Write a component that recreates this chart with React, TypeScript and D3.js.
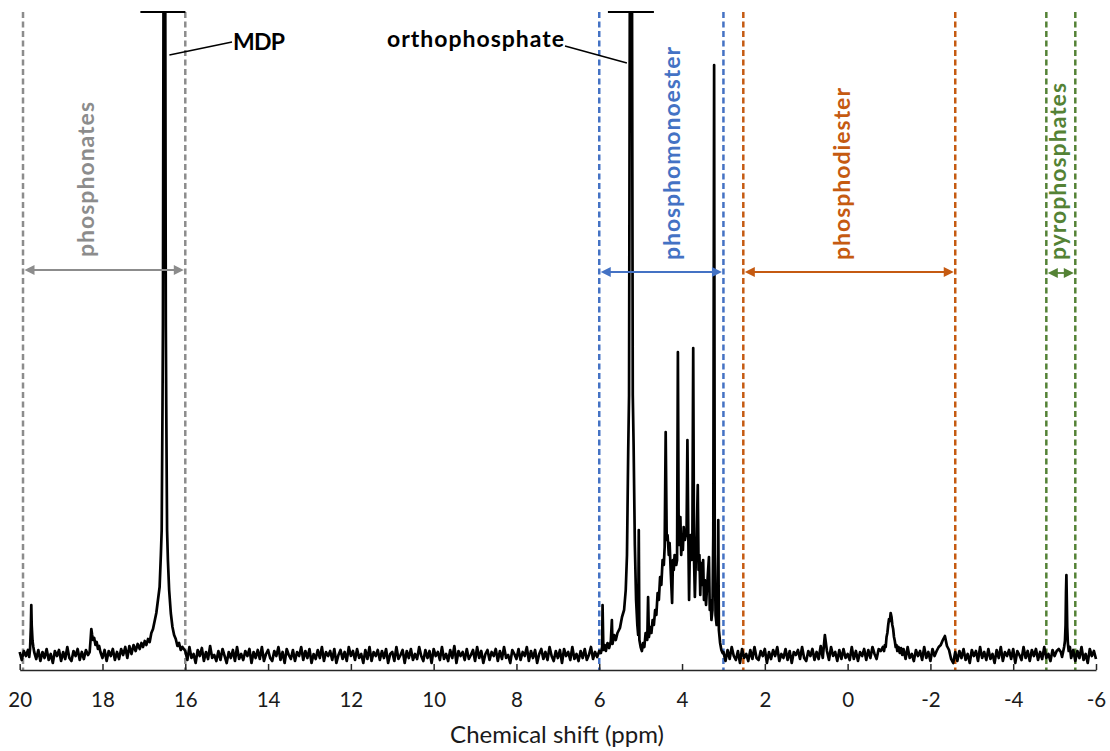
import React, { useEffect, useRef } from 'react';
import * as d3 from 'd3';

const W = 1110;
const H = 751;

// ---- axis ----
const tickValues = [20, 18, 16, 14, 12, 10, 8, 6, 4, 2, 0, -2, -4, -6];
const axisTitle = 'Chemical shift (ppm)';

// ---- spectrum (ppm, intensity in arbitrary units) ----
// regular-step baseline chunks (start ppm, step 0.05 ppm) and explicit peak points
const STEP = 0.05;
const noiseA = [3, -5, 4, -1, 5];
const peakA: [number, number][] = [[19.77, -2], [19.75, 6], [19.73, 28], [19.72, 50], [19.71, 30], [19.69, 14], [19.67, 8], [19.65, 3]];
const noiseB = [-4, 5, -6, 3, -3, 6, -5, 1, -8, 4, -1, 5, -6, 3, -4, 8, -3, -6, 4, -1, 6, -5, 3, -4, 5, 0];
const peakB: [number, number][] = [[18.31, 3], [18.29, 14], [18.27, 26], [18.25, 20], [18.23, 15], [18.2, 17], [18.17, 10], [18.14, 13], [18.11, 6], [18.08, 9], [18.05, 3]];
const noiseC = [-3, 5, -6, 4, -1, 6, -5, 3, -4, 6, 0, 8, -3, 9, 1, 10, 4, 11];
const peakMDP: [number, number][] = [
  [17.1, 6], [17.06, 12], [17.02, 8], [16.98, 14], [16.94, 10], [16.9, 16], [16.86, 13], [16.82, 22], [16.78, 26],
  [16.74, 34], [16.7, 42], [16.66, 55], [16.62, 68], [16.59, 100], [16.57, 125], [16.55, 250], [16.54, 330],
  [16.52, 800], [16.505, 1200], [16.49, 800], [16.47, 330], [16.46, 250], [16.44, 125], [16.42, 95], [16.39, 65],
  [16.35, 42], [16.31, 28], [16.27, 20], [16.23, 16], [16.19, 9], [16.15, 12], [16.11, 5], [16.07, 8],
];
const noiseD = [
  4, -5, 8, -3, 1, -8, 5, -1, 7, -6, 3, -4, 9, -3, 0, -6, 4, -5, 6, -1,
  -8, 3, -3, 5, -6, 8, -4, 1, -5, 4, -1, 6, -8, 3, -3, 5, -4, 8, -6, 1,
  5, -3, -6, 4, -1, 8, -5, 3, -8, 6, 0, -4, 5, -6, 3, -1, 8, -5, 4, -3,
  6, -8, 1, -4, 5, -3, 8, -6, 3, -1, 4, -5, 6, -8, 0, 5, -4, 3, -6, 8,
  -1, 4, -5, 6, -3, 1, -8, 5, -4, 8, -6, 3, -1, 5, -5, 4, -3, 6, -8, 1,
  3, -6, 8, -4, 0, 5, -8, 4, -3, 6, -5, 1, -4, 8, -1, -6, 5, -3, 4, -8,
  6, -1, 3, -5, 8, -4, 1, -6, 5, -3, 9, -8, 4, -1, 3, -5, 6, -4, 0, 5,
  -6, 8, -3, 4, -8, 1, 5, -5, 3, -1, 6, -6, 4, -4, 8, -3, 0, -8, 5, 1,
  -4, 6, -5, 3, -1, 8, -6, 4, -3, 5, -8, 1, 6, -4, 3, -5, 8, -1, -6, 4,
  -3, 5, -8, 6, -1, 3, -5, 8, -4, 1, -6, 4, -3, 6, -5, 0, 8, -4, 3,
];
const cluster: [number, number][] = [
  [6.05, -2], [6.0, 4], [5.96, 2], [5.93, 8], [5.92, 50], [5.9, 5], [5.87, 10], [5.84, 4], [5.8, 12], [5.76, 7],
  [5.72, 14], [5.695, 35], [5.68, 11], [5.64, 20], [5.6, 15], [5.56, 22], [5.5, 27], [5.45, 38],
  [5.4, 45], [5.36, 65], [5.33, 100], [5.3, 205], [5.28, 260], [5.255, 800], [5.235, 1200], [5.215, 800],
  [5.19, 260], [5.17, 210], [5.14, 110], [5.11, 55], [5.08, 30], [5.06, 20], [5.045, 125], [5.03, 15],
  [5.0, 8], [4.97, 4], [4.94, 12], [4.91, 8], [4.88, 22], [4.84, 15], [4.82, 58], [4.8, 18], [4.77, 28],
  [4.74, 22], [4.71, 35], [4.68, 30], [4.65, 45], [4.62, 40], [4.59, 62], [4.56, 55], [4.53, 78], [4.5, 70],
  [4.47, 95], [4.44, 90], [4.42, 108], [4.395, 223], [4.37, 115], [4.35, 120], [4.32, 100], [4.3, 112],
  [4.28, 90], [4.24, 52], [4.22, 95], [4.2, 85], [4.18, 100], [4.14, 90], [4.12, 95], [4.1, 303], [4.08, 110],
  [4.06, 125], [4.04, 138], [4.02, 100], [4.0, 120], [3.98, 105], [3.96, 128], [3.93, 115], [3.89, 125],
  [3.87, 215], [3.85, 125], [3.83, 55], [3.81, 110], [3.79, 120], [3.77, 95], [3.75, 118], [3.73, 307],
  [3.71, 95], [3.69, 58], [3.67, 90], [3.645, 120], [3.62, 170], [3.6, 85], [3.58, 100], [3.56, 60],
  [3.54, 92], [3.52, 70], [3.49, 95], [3.47, 55], [3.45, 75], [3.42, 50], [3.4, 65], [3.35, 98], [3.33, 45],
  [3.31, 55], [3.29, 35], [3.265, 45], [3.245, 120], [3.225, 590], [3.21, 100], [3.19, 40], [3.165, 30],
  [3.14, 40], [3.125, 135], [3.11, 25], [3.08, 12], [3.05, 5], [3.02, 2],
];
const noiseF1 = [
  3, -6, 5, -4, 8, -1, -5, 4, -8, 6, -3, 1, -6, 5, -4, 8, -3, -5, 4, -1,
  6, -8, 3, -4, 5, -1, 8, -6, 1, -3, 6, -5, 4, -8, 3, 0, 5, -4, 8, -3,
  -6, 4, -1, 6, -5, 3, -4, 9, -3, 20, 4, -5, 8, -1, 3, -6, 5, -4, 6, -3,
  1, -5, 8, -4, 4, -6, 3, -1, 6, -5, 5, -3, 8, 1, -4, 6, 4, 8,
];
const peakF: [number, number][] = [
  [-0.88, 4], [-0.9, 10], [-0.92, 8], [-0.94, 18], [-0.96, 22], [-0.98, 30], [-1.0, 36], [-1.02, 34], [-1.04, 42],
  [-1.06, 38], [-1.08, 30], [-1.1, 26], [-1.12, 18], [-1.14, 14], [-1.16, 8], [-1.18, 10], [-1.2, 4], [-1.23, 8],
  [-1.26, 2], [-1.29, 7], [-1.32, 0],
];
const noiseF2 = [
  6, -4, 8, -3, 1, -6, 5, -1, 4, -5, 8, -3, 3, -6, 6, -1, 4, 8, 10, 15,
  19, 9, 5, -4, -8, 3, -6, 4, -3, 6, -5, 1, -8, 5, -1, 4, -6, 8, -3, 3,
  -5, 6, -4, 1, -8, 5, -3, 8, -6, 3, -1, 5, -4, 6, -8, 4, 0, -5, 8, -3,
  4, -6, 5, -1, 6, -5, 3, -4, 8, -3, 1, -6, 5, -1, 4, 6, 3,
];
const peakG: [number, number][] = [
  [-5.18, -2], [-5.21, 4], [-5.23, 8], [-5.25, 14], [-5.265, 30], [-5.275, 62], [-5.285, 80], [-5.295, 55],
  [-5.305, 28], [-5.32, 12], [-5.34, 4], [-5.37, 8], [-5.4, -3],
];
const noiseF3 = [5, -6, 4, -3, 8, -5, 1, -8, 6, -1, 4, -4];

const seg = (start: number, vals: number[]): [number, number][] =>
  vals.map((v, i) => [+(start - i * STEP).toFixed(3), v]);

const spectrum: [number, number][] = [
  ...seg(20.0, noiseA), ...peakA,
  ...seg(19.6, noiseB), ...peakB,
  ...seg(18.0, noiseC), ...peakMDP,
  ...seg(16.0, noiseD), ...cluster,
  ...seg(3.0, noiseF1), ...peakF,
  ...seg(-1.35, noiseF2), ...peakG,
  ...seg(-5.45, noiseF3),
];

// ---- shaded regions (ppm limits) ----
const regionLabels = ['phosphonates', 'phosphomonoester', 'phosphodiester', 'pyrophosphates'];
const regionLeft = [19.92, 6.0, 2.52, -4.8];
const regionRight = [16.0, 3.0, -2.6, -5.5];
const regionColors = ['#8c8c8c', '#4472c4', '#c55a11', '#548235'];
const regionArrowY = [270, 272, 272, 273];
const regionLabelX = [94, 680, 850, 1066];
const regionLabelBottom = [257, 260, 260, 260];
const regionLabelLen = [155, 213, 172, 177];

// ---- peak labels ----
const peakLabels = ['MDP', 'orthophosphate'];
const peakLabelPpm = [16.505, 5.235];

export default function App() {
  const axisRef = useRef<SVGGElement>(null);
  const x = d3.scaleLinear().domain([20, -6]).range([19.7, 1096]);
  const y = d3.scaleLinear().domain([-15, 643]).range([670, 12]);
  const line = d3.line<[number, number]>().x((d) => x(d[0])).y((d) => y(d[1]));
  const top = y(643);
  const base = y(-15);

  useEffect(() => {
    if (!axisRef.current) return;
    const g = d3.select(axisRef.current);
    g.call(
      d3.axisBottom(x)
        .tickValues(tickValues)
        .tickSizeInner(-6)
        .tickSizeOuter(0)
        .tickPadding(22)
        .tickFormat((d) => String(d))
    );
    g.select('.domain').attr('stroke', '#262626').attr('stroke-width', 1.5);
    g.selectAll('.tick line').attr('stroke', '#262626').attr('stroke-width', 1.5);
    g.selectAll('.tick text')
      .attr('fill', '#1a1a1a')
      .style('font-family', 'Lato, sans-serif')
      .style('font-size', '20.5px');
  }, []);

  const arrowHead = (tipX: number, yy: number, dir: number) => {
    const L = 10, hw = 5;
    return `${tipX},${yy} ${tipX + dir * L},${yy - hw} ${tipX + dir * L},${yy + hw}`;
  };

  const mdpX = x(peakLabelPpm[0]);
  const orthoX = x(peakLabelPpm[1]);

  return (
    <svg width={W} height={H} style={{ position: 'absolute', left: 0, top: 0, background: '#fff' }}
      fontFamily="Lato, sans-serif">
      <defs>
        <clipPath id="plotClip">
          <rect x={0} y={top} width={W} height={base - top + 5} />
        </clipPath>
      </defs>

      {/* region dashed lines */}
      {regionLabels.map((name, i) => (
        <g key={name}>
          {[regionLeft[i], regionRight[i]].map((p, j) => (
            <line key={j} x1={x(p)} x2={x(p)} y1={top} y2={base}
              stroke={regionColors[i]} strokeWidth={2.5} strokeDasharray="6,3.5" />
          ))}
        </g>
      ))}

      {/* spectrum */}
      <path d={line(spectrum) || ''} fill="none" stroke="#000" strokeWidth={2.7}
        strokeLinejoin="round" clipPath="url(#plotClip)" />

      {/* truncation caps */}
      <line x1={mdpX - 24} x2={mdpX + 21} y1={top} y2={top} stroke="#000" strokeWidth={2} />
      <line x1={orthoX - 23} x2={orthoX + 23} y1={top} y2={top} stroke="#000" strokeWidth={2} />

      {/* region arrows & labels */}
      {regionLabels.map((name, i) => {
        const xa = x(regionLeft[i]) + 1.5;
        const xb = x(regionRight[i]) - 1.5;
        const ya = regionArrowY[i];
        return (
          <g key={'a' + name} fill={regionColors[i]}>
            <line x1={xa + 6} x2={xb - 6} y1={ya} y2={ya} stroke={regionColors[i]} strokeWidth={1.8} />
            <polygon points={arrowHead(xa, ya, 1)} />
            <polygon points={arrowHead(xb, ya, -1)} />
            <text transform={`translate(${regionLabelX[i]},${regionLabelBottom[i]}) rotate(-90)`}
              fontSize={23} fontWeight="bold" textLength={regionLabelLen[i]} lengthAdjust="spacing">
              {name}
            </text>
          </g>
        );
      })}

      {/* peak labels */}
      <line x1={mdpX + 5} y1={55} x2={232} y2={42} stroke="#000" strokeWidth={1.5} />
      <text x={233} y={50} fontSize={23} fontWeight="bold" textLength={52} lengthAdjust="spacing">{peakLabels[0]}</text>
      <line x1={565} y1={46} x2={orthoX - 4} y2={63} stroke="#000" strokeWidth={1.5} />
      <text x={387} y={47} fontSize={23} fontWeight="bold" textLength={177} lengthAdjust="spacing">{peakLabels[1]}</text>

      {/* axis */}
      <g ref={axisRef} transform={`translate(0,${base})`} />
      <text x={557} y={743} textAnchor="middle" fontSize={24} fill="#1a1a1a">{axisTitle}</text>
    </svg>
  );
}
